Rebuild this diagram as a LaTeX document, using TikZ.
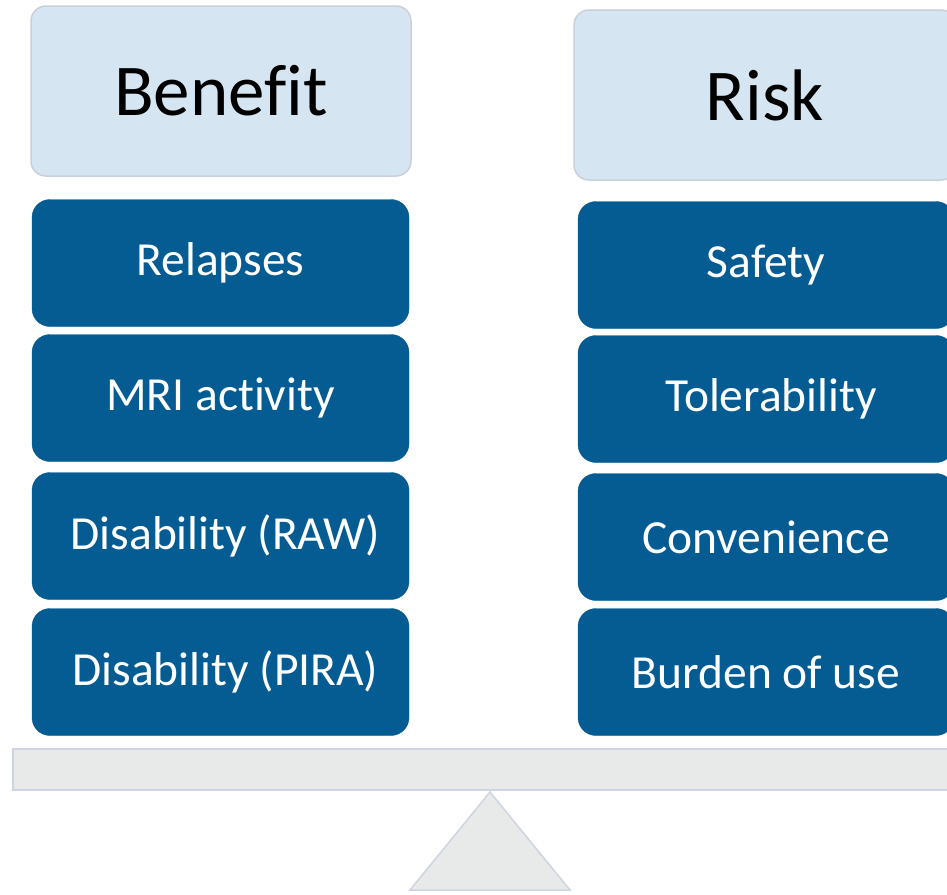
\documentclass[tikz,border=0pt]{standalone}
\usepackage{fontspec}
\setmainfont[Ligatures=NoCommon]{Carlito}
\usepackage{tikz}
\usetikzlibrary{positioning}

\definecolor{hdrfill}{RGB}{213,229,242}
\definecolor{hdrline}{RGB}{202,208,218}
\definecolor{itemblue}{RGB}{4,92,146}
\definecolor{beamfill}{RGB}{232,234,234}
\definecolor{beamline}{RGB}{206,212,224}

\begin{document}
\begin{tikzpicture}[x=1pt,y=-1pt,
  hdr/.style={draw=hdrline,line width=1.5pt,fill=hdrfill,rounded corners=15pt,
    minimum height=170pt,inner sep=0pt,font=\fontsize{73}{80}\selectfont},
  item/.style={draw=itemblue,fill=itemblue,rounded corners=18pt,minimum width=376pt,
    minimum height=127pt,inner sep=0pt},
  itemtxt/.style={text=white,font=\fontsize{47.5}{52}\selectfont},
  beam/.style={draw=beamline,line width=1.5pt,fill=beamfill}]
\useasboundingbox (0,0) rectangle (947,894);
\clip (0,0) rectangle (947,894);

% headers
\node[hdr,minimum width=380pt] (benefit) at (221,91) {Benefit};
\node[hdr,minimum width=382pt] (risk) at (765,95) {Risk};

% benefit items
\foreach \nm/\yc/\dx/\txt in {rel/263/0/Relapses, mri/398/0/{MRI activity},
    raw/536/5/{Disability (RAW)}, pira/672/5/{Disability (PIRA)}}{
  \node[item,minimum width=377pt] (\nm) at (220.5,\yc) {};
  \node[itemtxt] (\nm-t) at ([xshift=\dx pt]\nm.center) {\txt};
}
% risk items
\foreach \nm/\yc/\dx/\txt in {saf/265/0/Safety, tol/399/5/Tolerability,
    conv/537/0/Convenience, burd/672/0/{Burden of use}}{
  \node[item] (\nm) at (766,\yc) {};
  \node[itemtxt] (\nm-t) at ([xshift=\dx pt]\nm.center) {\txt};
}

% balance beam and pivot
\draw[beam] (13,749) rectangle (965,790);
\draw[beam] (490,792) -- (570,890) -- (410,890) -- cycle;
\end{tikzpicture}
\end{document}
